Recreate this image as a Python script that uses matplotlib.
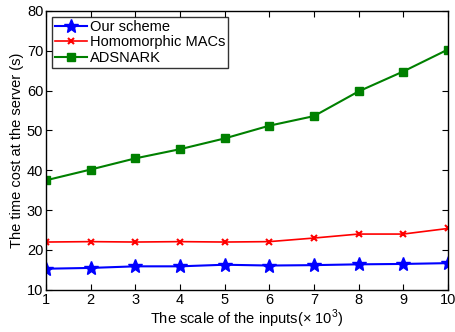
import matplotlib
matplotlib.use("Agg")
import matplotlib.pyplot as plt

plt.rcParams['font.family'] = ['Liberation Sans', 'DejaVu Sans']
plt.rcParams['mathtext.fontset'] = 'custom'
plt.rcParams['mathtext.rm'] = 'Liberation Sans'

scale = [1, 2, 3, 4, 5, 6, 7, 8, 9, 10]
our_scheme = [15.3, 15.5, 15.9, 15.9, 16.3, 16.1, 16.2, 16.4, 16.5, 16.7]
homomorphic = [22.0, 22.1, 22.0, 22.1, 22.0, 22.1, 23.0, 24.0, 24.0, 25.4]
adsnark = [37.5, 40.2, 43.0, 45.3, 48.0, 51.2, 53.6, 59.8, 64.8, 70.3]

fig = plt.figure(figsize=(4.56, 3.32), dpi=100)
ax = fig.add_axes([0.101, 0.127, 0.881, 0.840])

ax.plot(scale, our_scheme, color='blue', marker='*', markersize=10.5, linewidth=1.5, label='Our scheme')
ax.plot(scale, homomorphic, color='red', marker='x', markersize=5, markeredgewidth=1.5, linewidth=1.2, label='Homomorphic MACs')
ax.plot(scale, adsnark, color='green', marker='s', markersize=6.2, linewidth=1.5, label='ADSNARK')

ax.set_xlim(1, 10)
ax.set_ylim(10, 80)
ax.set_xticks(scale)
ax.set_yticks([10, 20, 30, 40, 50, 60, 70, 80])
ax.tick_params(direction='in', top=True, right=True, labelsize=10.5, length=4, pad=2)
for s in ax.spines.values():
    s.set_linewidth(1.0)

ax.set_xlabel(r'The scale of the inputs($\times$ 10$^3$)', fontsize=10.5, labelpad=1)
ax.set_ylabel('The time cost at the server (s)', fontsize=10.5, labelpad=2)

leg = ax.legend(loc='upper left', fontsize=10.5, fancybox=False, edgecolor='black',
                handlelength=2.2, borderpad=0.2, labelspacing=0.12, handletextpad=0.2,
                borderaxespad=0.4)
leg.get_frame().set_linewidth(1.0)

fig.savefig('out.png', dpi=100)
